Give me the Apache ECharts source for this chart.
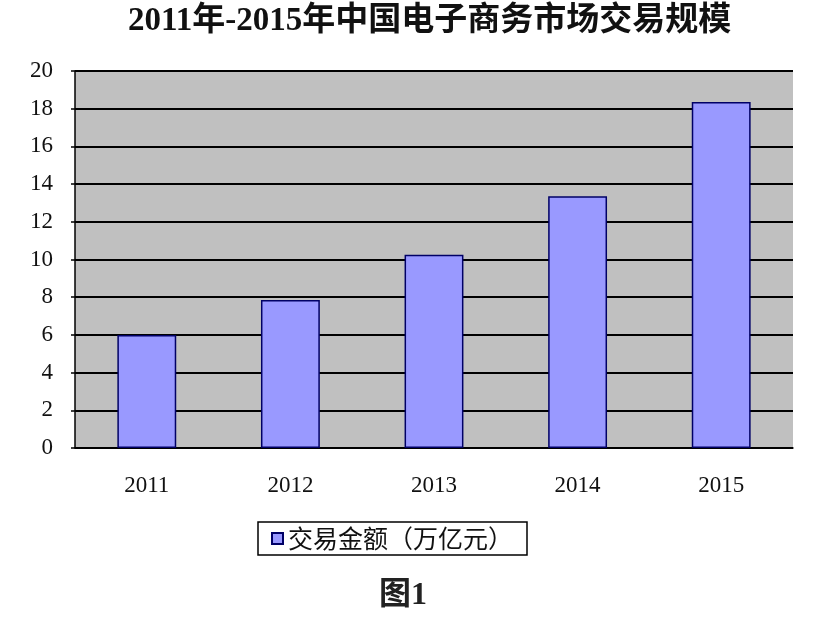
<!DOCTYPE html>
<html>
<head>
<meta charset="utf-8">
<script src="https://cdn.jsdelivr.net/npm/echarts@6/dist/echarts.min.js"></script>
<style>html,body{margin:0;padding:0;background:#fff;}#c{width:829px;height:624px;}</style>
</head>
<body>
<div id="c"></div>
<script>
var titleText = '2011年-2015年中国电子商务市场交易规模';
var figureLabel = '图1';
var seriesName = '交易金额（万亿元）';
var years = ['2011', '2012', '2013', '2014', '2015'];
var amounts = [6.0, 7.85, 10.25, 13.35, 18.35];

var serif = '"Liberation Serif", "Noto Sans CJK SC", serif';
var chart = echarts.init(document.getElementById('c'));
chart.setOption({
  backgroundColor: '#ffffff',
  animation: false,
  title: {
    text: titleText,
    left: 128,
    top: 5,
    padding: 0,
    textStyle: { fontFamily: serif, fontSize: 33, fontWeight: 'bold', color: '#111' }
  },
  legend: {
    data: [seriesName],
    left: 258,
    top: 522,
    itemWidth: 11,
    itemHeight: 11,
    itemGap: 6,
    padding: [4, 14, 4, 13],
    borderColor: '#000',
    borderWidth: 1.5,
    backgroundColor: '#fff',
    icon: 'rect',
    textStyle: { fontFamily: '"Noto Sans CJK SC", sans-serif', fontSize: 25, color: '#111' }
  },
  graphic: [{
    type: 'text',
    left: 379,
    top: 580,
    style: { text: figureLabel, font: 'bold 32px "Liberation Serif", "Noto Sans CJK SC", serif', fill: '#222' }
  }],
  grid: {
    left: 75, right: 36, top: 71, bottom: 176,
    show: true, backgroundColor: '#C0C0C0', borderWidth: 0
  },
  xAxis: {
    type: 'category',
    data: years,
    boundaryGap: true,
    axisLine: { lineStyle: { color: '#000', width: 1.5 } },
    axisTick: { inside: true, length: 6, lineStyle: { color: '#000', width: 1.5 } },
    axisLabel: { fontFamily: serif, fontSize: 23, color: '#111', margin: 26 }
  },
  yAxis: {
    type: 'value',
    min: 0, max: 20, interval: 2,
    axisLine: { show: true, lineStyle: { color: '#000', width: 1.5 } },
    axisTick: { show: true, length: 4, lineStyle: { color: '#000', width: 1.5 } },
    axisLabel: { fontFamily: serif, fontSize: 23, color: '#111', margin: 22 },
    splitLine: { lineStyle: { color: '#000', width: 1.8 } }
  },
  series: [{
    name: seriesName,
    type: 'bar',
    data: amounts,
    barWidth: '41%',
    itemStyle: { color: '#9999FF', borderColor: '#000066', borderWidth: 1.5 }
  }]
});
</script>
</body>
</html>
